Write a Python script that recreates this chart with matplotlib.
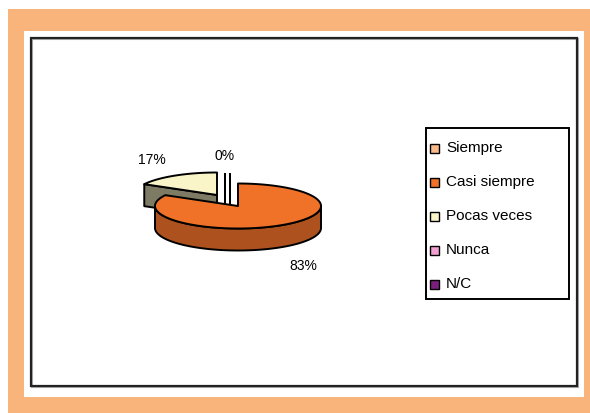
import numpy as np
import matplotlib
matplotlib.use('Agg')
import matplotlib.pyplot as plt
from matplotlib.patches import Rectangle, Polygon

# Survey answers and their share of responses
categories = ['Siempre', 'Casi siempre', 'Pocas veces', 'Nunca', 'N/C']
percentages = [0, 83, 17, 0, 0]
colors = ['#F9B98A', '#F07229', '#FAF5C8', '#F2A0D2', '#7B1F7C']

# pie geometry (pixel units, y grows downwards)
CX, CY = 238, 206
RX, RY = 83, 22.5
DEPTH = 22
# offset of each exploded slice
explode = [(-13, -10), (0, 0), (-21, -11), (-8, -10), (-8, -10)]

plt.rcParams['font.family'] = ['Liberation Sans', 'DejaVu Sans']

fig = plt.figure(figsize=(5.9, 4.13), dpi=100)
ax = fig.add_axes([0, 0, 1, 1])
ax.set_xlim(0, 590)
ax.set_ylim(413, 0)
ax.axis('off')

# frame: orange band, white card, black border
ax.add_patch(Rectangle((8, 9), 582, 404, facecolor='#F9B47C', edgecolor='none'))
ax.add_patch(Rectangle((24, 31), 560, 366, facecolor='white', edgecolor='none'))
ax.add_patch(Rectangle((32, 39), 546, 348, facecolor='none', edgecolor='#B0B0B0', lw=1.5))
ax.add_patch(Rectangle((31, 38), 546, 348, facecolor='none', edgecolor='#222222', lw=1.6))


def shade(c, f):
    r, g, b = matplotlib.colors.to_rgb(c)
    return (r * f, g * f, b * f)


def pt(t, dx, dy, z=0):
    a = np.radians(t)
    return (CX + dx + RX * np.cos(a), CY + dy - RY * np.sin(a) + z)


def arc(t1, t2, dx, dy, z=0):
    ts = np.linspace(t1, t2, max(3, int(abs(t2 - t1) / 2)))
    return [pt(t, dx, dy, z) for t in ts]


# slice angles: start at 12 o'clock, clockwise
slices = []
cum = 0
for i, v in enumerate(percentages):
    t2 = 90 - cum * 3.6
    t1 = t2 - v * 3.6
    cum += v
    slices.append((i, t1, t2))

# back slices first
order = sorted(slices, key=lambda s: explode[s[0]][1])
for i, t1, t2 in order:
    dx, dy = explode[i]
    c = colors[i]
    ctop = (CX + dx, CY + dy)
    cbot = (CX + dx, CY + dy + DEPTH)
    kw = dict(edgecolor='black', lw=1.4, joinstyle='round')
    if percentages[i] == 0:
        ax.add_patch(Polygon([ctop, pt(t2, dx, dy), pt(t2, dx, dy, DEPTH), cbot],
                             closed=True, facecolor='white', **kw))
        continue
    # radial faces facing the viewer
    for t, n in ((t1, t1 - 90), (t2, t2 + 90)):
        if np.sin(np.radians(n)) < -1e-6:
            ax.add_patch(Polygon([ctop, pt(t, dx, dy), pt(t, dx, dy, DEPTH), cbot],
                                 closed=True, facecolor=shade(c, 0.5), **kw))
    # front part of the rim
    k0 = np.floor((t1 + 180) / 360)
    for k in range(int(k0) - 1, int(k0) + 2):
        a, b = max(t1, -180 + 360 * k), min(t2, 360 * k)
        if b > a:
            top = arc(a, b, dx, dy)
            bot = arc(a, b, dx, dy, DEPTH)
            ax.add_patch(Polygon(top + bot[::-1], closed=True,
                                 facecolor=shade(c, 0.72), **kw))
    # top face
    ax.add_patch(Polygon([ctop] + arc(t1, t2, dx, dy), closed=True,
                         facecolor=c, **kw))

# percentage labels
shown_zero = False
for i, t1, t2 in slices:
    v = percentages[i]
    if v == 0:
        if shown_zero:
            continue
        shown_zero = True
    dx, dy = explode[i]
    m = np.radians((t1 + t2) / 2)
    lx = CX + dx + 1.55 * RX * np.cos(m)
    ly = CY + dy - 1.8 * RY * np.sin(m)
    if np.sin(m) < -1e-6:
        ly += DEPTH + 3
    ax.text(lx, ly, f'{v}%', fontsize=10, ha='center', va='center', color='black')

# legend
ax.add_patch(Rectangle((426, 128), 143, 171, facecolor='white', edgecolor='black', lw=1.4))
for j, (name, c) in enumerate(zip(categories, colors)):
    y = 148 + j * 34
    ax.add_patch(Rectangle((430, y - 4.5), 9, 9, facecolor=c, edgecolor='black', lw=1.0))
    ax.text(446, y, name, fontsize=11, ha='left', va='center', color='black')

fig.savefig('out.png', dpi=100)
